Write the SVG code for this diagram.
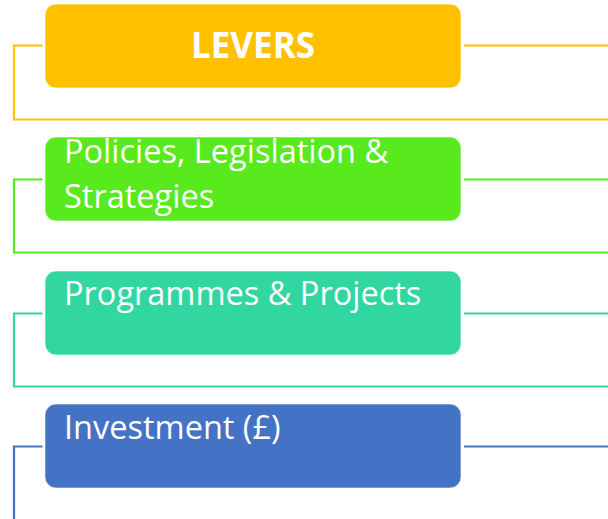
<svg xmlns="http://www.w3.org/2000/svg" width="608" height="519" viewBox="0 0 608 519">
<style>
.box{stroke:#ffffff;stroke-opacity:0.6;stroke-width:1}
.ln{fill:none;stroke-width:2.2}
.t{font-family:"Open Sans","Noto Sans",sans-serif;font-size:32.5px;fill:#ffffff}
.tb{font-family:"Open Sans","Noto Sans",sans-serif;font-size:35px;font-weight:bold;fill:#ffffff}
</style>
<rect width="608" height="519" fill="#ffffff"/>
<g id="connectors">
<path class="ln" stroke="#FFC000" d="M42.5,45.5 H14 V119.5 H608 M464,45.5 H608"/>
<path class="ln" stroke="#58EA1C" d="M42.5,179.5 H14 V252.5 H608 M464,179.5 H608"/>
<path class="ln" stroke="#31D6A0" d="M42.5,313.5 H14 V386.5 H608 M464,313.5 H608"/>
<path class="ln" stroke="#4472C4" d="M42.5,446.5 H14 V519 M464,446.5 H608"/>
</g>
<g id="levers">
<rect class="box" x="45" y="4" width="416" height="84" rx="11" fill="#FFC000"/>
<text class="tb" x="253" y="58" text-anchor="middle">LEVERS</text>
</g>
<g id="policies">
<rect class="box" x="45" y="137" width="416" height="84" rx="11" fill="#58EA1C"/>
<text class="t" x="64" y="163">Policies, Legislation &amp;</text>
<text class="t" x="64" y="208">Strategies</text>
</g>
<g id="programmes">
<rect class="box" x="45" y="271" width="416" height="84" rx="11" fill="#31D6A0"/>
<text class="t" x="64" y="305">Programmes &amp; Projects</text>
</g>
<g id="investment">
<rect class="box" x="45" y="404" width="416" height="84" rx="11" fill="#4472C4"/>
<text class="t" x="64" y="439">Investment (£)</text>
</g>
</svg>
